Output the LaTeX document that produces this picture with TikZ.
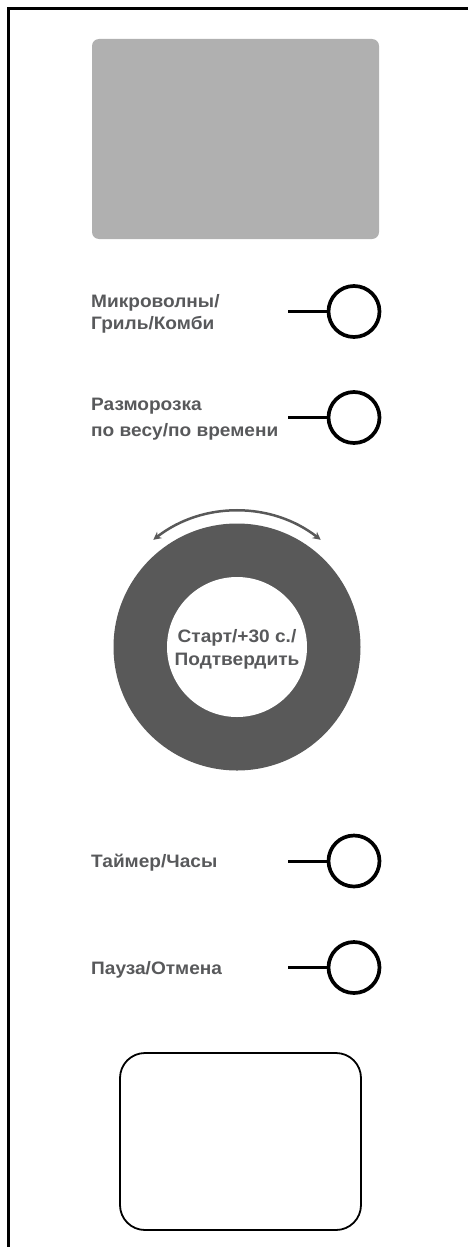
\documentclass[tikz,border=0pt]{standalone}
\usepackage{fontspec}
\setmainfont{Liberation Sans}[FakeStretch=1.06]
\usetikzlibrary{arrows.meta}
\definecolor{txtgray}{HTML}{58595B}
\definecolor{dispgray}{HTML}{B0B0B0}
\definecolor{dialgray}{HTML}{595959}
\tikzset{
  lbl/.style={anchor=base west, inner sep=0pt, text=txtgray, font=\fontsize{18}{21}\selectfont\bfseries},
  dialtxt/.style={anchor=base, inner sep=0pt, text=txtgray, font=\fontsize{18}{21}\selectfont\bfseries},
  btn/.style={circle, draw=black, line width=3.7pt, minimum size=51pt, inner sep=0pt},
  lead/.style={draw=black, line width=3pt},
}
\begin{document}
\begin{tikzpicture}[x=1pt,y=-1pt]
\useasboundingbox (0,0) rectangle (468,1247);
% frame (top and left edges visible)
\draw[line width=3pt] (470,8.5) -- (8.5,8.5) -- (8.5,1250);
% display
\fill[dispgray, rounded corners=7pt] (92,39) rectangle (379,239);
% buttons
\node[btn] (b1) at (354,311.5) {};
\node[btn] (b2) at (354,417.5) {};
\node[btn] (b3) at (354,861) {};
\node[btn] (b4) at (354,967.5) {};
\coordinate (l1) at (288,311.5);
\coordinate (l2) at (288,417.5);
\coordinate (l3) at (288,861);
\coordinate (l4) at (288,967.5);
\draw[lead] (l1) -- (b1.west);
\draw[lead] (l2) -- (b2.west);
\draw[lead] (l3) -- (b3.west);
\draw[lead] (l4) -- (b4.west);
% labels
\node[lbl] (t1a) at (91,307.5) {Микроволны/};
\node[lbl] (t1b) at (91,329.5) {Гриль/Комби};
\node[lbl] (t2a) at (91,410.5) {Разморозка};
\node[lbl] (t2b) at (91,436) {по весу/по времени};
\node[lbl] (t3) at (91,867.5) {Таймер/Часы};
\node[lbl] (t4) at (91,974.5) {Пауза/Отмена};
% dial
\node[circle, fill=dialgray, minimum size=247pt, inner sep=0pt] (dial) at (237,647) {};
\node[circle, fill=white, minimum size=140pt, inner sep=0pt] (knob) at (237,647) {};
\node[dialtxt] (d1) at (237,642) {Старт/+30 с./};
\node[dialtxt] (d2) at (237,665) {Подтвердить};
% rotation arrow
\coordinate (arcL) at ([shift={(-128:136)}]dial.center);
\draw[dialgray, line width=2.5pt, {Stealth[length=8pt,width=8pt]}-{Stealth[length=8pt,width=8pt]}]
  (arcL) arc[start angle=-128, end angle=-52, radius=136];
% bottom box
\draw[line width=1.8pt, rounded corners=25pt] (120,1053) rectangle (361,1230);
\end{tikzpicture}
\end{document}
